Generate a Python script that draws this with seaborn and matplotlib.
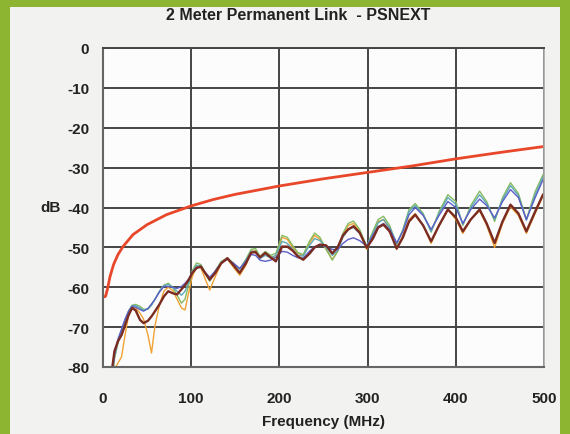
import numpy as np
import pandas as pd
import seaborn as sns
import matplotlib.pyplot as plt
from matplotlib.patches import Rectangle
from matplotlib.ticker import MultipleLocator

# frequency grid (MHz) shared by the measured pairs
freq = [10, 13, 17, 21, 25, 29, 33, 37, 42, 46, 51, 55, 59, 64, 69, 74, 79, 84, 89, 93,
        97, 101, 106, 111, 116, 121, 127, 134, 141, 148, 155, 162, 168, 173, 178, 184,
        190, 196, 203, 209, 215, 221, 227, 234, 240, 246, 253, 260, 266, 272, 278, 284,
        291, 299, 306, 312, 318, 325, 333, 340, 347, 354, 363, 372, 381, 391, 400, 408,
        417, 427, 435, 444, 453, 462, 471, 480, 490, 499]

maroon = [-81, -76, -73.5, -72, -69.5, -67, -65.2, -65.8, -68.2, -69, -68.4, -67.3, -66, -64.3,
          -62.3, -61, -61.5, -61.8, -60.5, -59.5, -58.2, -56.5, -55.2, -54.8, -56.5, -58.1,
          -56.5, -54, -52.7, -54.5, -56.4, -54, -51.3, -51.2, -52.5, -51.4, -52.5, -53.5,
          -49.8, -49.8, -50.8, -52.3, -53.1, -51.6, -50, -49.3, -49.5, -51.5, -50, -47, -45.5,
          -44.7, -46.3, -50.1, -47.8, -45, -44.3, -46, -50.3, -47.5, -43.5, -41.8, -44.5,
          -48.5, -44.5, -40.5, -42.5, -46, -43, -40.5, -44, -48.9, -43.5, -39.3, -41.5, -46,
          -41, -36.7]

orange = [-83, -80.5, -79, -77.5, -72, -67, -65, -65.2, -66.5, -68, -72, -76.5, -69.5, -64.5,
          -61, -60, -60.8, -63, -65.2, -65.7, -61.5, -57.5, -54.8, -55.2, -58, -60.7, -57.5,
          -54, -53, -55, -57, -54.5, -51, -50.8, -52.5, -51.2, -52.5, -52.5, -47.5, -48, -50,
          -51.5, -52, -49, -47, -48, -50.5, -53, -51, -47, -44.5, -44, -46, -50.5, -47, -43.5,
          -43, -45.5, -50.5, -47, -43, -41.5, -44.5, -49, -44.5, -40.5, -43, -46.5, -43, -40.8,
          -44.5, -50, -44, -39.8, -42, -46.5, -41.5, -37]

green = [-84, -78, -74, -71, -68.5, -66, -64.5, -64.3, -64.8, -65.5, -65.5, -64.5, -63, -61,
         -59.5, -59, -60, -62, -64, -63, -59.5, -56, -53.9, -54.3, -56.5, -58.5, -56, -53.5,
         -52.7, -54, -55.5, -53, -50.5, -50.3, -52.3, -51, -52, -51.5, -47, -47.5, -49.5,
         -51.3, -51.8, -48.5, -46.4, -47.5, -50.5, -53.2, -51, -46.5, -44, -43.4, -45.5,
         -49.7, -46, -43, -42.2, -44.5, -49.3, -45.5, -40.5, -39, -41.5, -46.2, -41, -36.8,
         -38.5, -44.5, -39.5, -35.9, -38.5, -43.5, -37.5, -33.8, -36.5, -43, -36, -31.7]

teal = [-83, -77.5, -73.5, -70.8, -68.3, -66, -64.6, -64.6, -65.2, -65.8, -65.4, -64.4, -63, -61,
        -59.6, -59.3, -60, -61, -62, -61, -58.8, -56.3, -54.5, -54.6, -56.4, -58, -56, -53.8,
        -52.8, -54, -55.4, -53.2, -51, -51, -52.8, -52, -52.6, -52, -48.5, -49, -50.5, -52,
        -52.2, -49.5, -47.8, -48.3, -50, -52, -50.8, -47.5, -45.5, -45, -46.5, -49.7, -46.5,
        -43.8, -43, -45, -49, -45.8, -41, -39.5, -41.8, -46, -41.5, -37.5, -39.2, -44.2, -40,
        -36.8, -39, -43, -38, -34.5, -37, -43.2, -36.8, -32.3]

blue = [-82, -77, -73, -70.5, -68, -66, -64.8, -65, -65.6, -66, -65.3, -64.2, -63, -61.2,
        -59.8, -59.8, -60, -60.3, -59.8, -59, -58, -56.5, -55, -55, -56.3, -57.5, -56, -54,
        -53, -54, -55.3, -53.5, -51.8, -52, -53.2, -53.5, -53.2, -52.5, -51, -51.2, -52,
        -52.6, -52.7, -51, -49.8, -49.3, -49.8, -50.5, -50.6, -49, -48, -47.6, -48.3, -49.7,
        -47, -44.8, -44, -45.5, -48.9, -46, -41.8, -40, -42, -45.5, -42, -38.5, -40, -44,
        -40.5, -37.9, -39.5, -42.6, -38.5, -35.5, -37.5, -43, -37.5, -33]

# limit line
limit_freq = [2, 3, 5, 8, 12, 17, 23, 34, 50, 72, 100, 125, 150, 200, 250, 300, 350, 400, 450, 500]
limit_db = [-62.4, -62.2, -60.5, -57.3, -54.3, -51.8, -49.7, -46.8, -44.3, -41.8, -39.6, -38.0,
            -36.7, -34.6, -32.8, -31.2, -29.6, -27.8, -26.2, -24.7]

x_ticks = [0, 100, 200, 300, 400, 500]
y_ticks = [0, -10, -20, -30, -40, -50, -60, -70, -80]

sns.set_style('white')
plt.rcParams['font.family'] = ['Liberation Sans', 'DejaVu Sans']
plt.rcParams['axes.unicode_minus'] = False

fig = plt.figure(figsize=(5.7, 4.35), dpi=100)
fig.patch.set_facecolor('#8db531')
# light inner panel, kept behind the axes
panel = Rectangle((10 / 570, 0), 550 / 570, 427 / 435, transform=fig.transFigure,
                  facecolor='#f2f2f0', edgecolor='none', zorder=-5)
fig.add_artist(panel)

ax = fig.add_axes([103 / 570, 1 - 368 / 435, 441 / 570, 319 / 435])
ax.set_zorder(1)
ax.set_facecolor('#fcfcfc')

series = [
    (orange, '#f0a232', 1.0),
    (green, '#86bb62', 1.0),
    (teal, '#5fa9b6', 1.0),
    (blue, '#5b5ec6', 1.0),
    (maroon, '#7a2b22', 1.7),
]
for vals, col, lw in series:
    sns.lineplot(x=freq, y=vals, color=col, linewidth=lw, ax=ax, sort=False)

sns.lineplot(x=limit_freq, y=limit_db, color='#e8472a', linewidth=2.0, ax=ax, sort=False)

ax.set_xlim(0, 500)
ax.set_ylim(-80, 0)
ax.set_xticks(x_ticks)
ax.set_yticks(y_ticks)
ax.xaxis.set_minor_locator(MultipleLocator(20))

ax.grid(which='major', color='#444444', linewidth=1.4)
ax.set_axisbelow(True)
for side in ['left', 'bottom']:
    ax.spines[side].set_color('#666666')
    ax.spines[side].set_linewidth(1.5)
ax.spines['top'].set_color('#444444')
ax.spines['top'].set_linewidth(1.4)
ax.spines['right'].set_color('#a8a8a8')
ax.spines['right'].set_linewidth(1.2)

ax.tick_params(axis='y', which='major', direction='out', length=5, width=1.2,
               color='#555555', pad=5, labelsize=11, labelcolor='#222222')
ax.tick_params(axis='x', which='major', length=0, pad=17, labelsize=11,
               labelcolor='#222222')
ax.tick_params(axis='x', which='minor', direction='in', length=3, width=1,
               color='#777777')
for lab in ax.get_xticklabels() + ax.get_yticklabels():
    lab.set_fontweight('bold')

ax.set_xlabel('Frequency (MHz)', fontsize=11, fontweight='bold', color='#222222', labelpad=7)
ax.set_ylabel('dB', fontsize=11, fontweight='bold', color='#222222', rotation=0,
              ha='right', va='center')
ax.yaxis.set_label_coords(-0.095, 0.5)

fig.text(298 / 570, 1 - 15 / 435, '2 Meter Permanent Link  - PSNEXT', ha='center', va='center',
         fontsize=11.5, fontweight='bold', color='#222222')

fig.savefig('out.png', dpi=100, facecolor=fig.get_facecolor())
